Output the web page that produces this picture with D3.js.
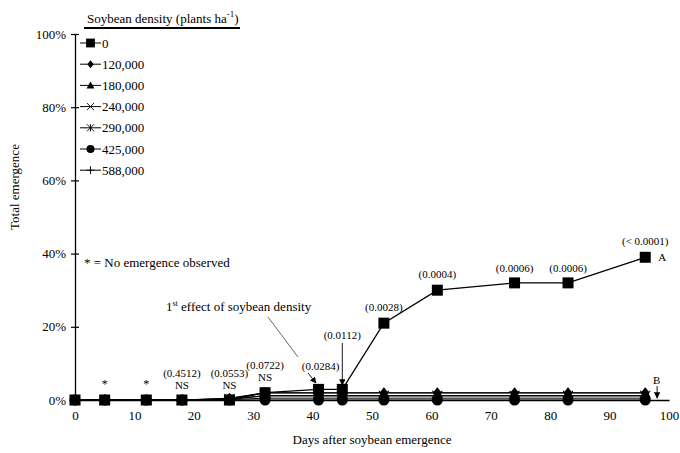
<!DOCTYPE html>
<html>
<head>
<meta charset="utf-8">
<script src="https://cdn.jsdelivr.net/npm/d3@7"></script>
<style>
  html, body { margin: 0; padding: 0; background: #fff; }
  svg text { font-family: "Liberation Serif", "Times New Roman", serif; fill: #000; }
</style>
</head>
<body>
<svg id="chart" width="680" height="453"></svg>
<script>
// Days after soybean emergence at which emergence was counted
const days = [0, 5, 12, 18, 26, 32, 41, 45, 52, 61, 74, 83, 96];

// Total emergence (%) for each soybean density
const density0      = [0, 0, 0, 0, 0,   2.0, 2.9, 2.9, 21, 30, 32, 32, 39];
const density120000 = [0, 0, 0, 0, 0.5, 2.0, 2.0, 2.0, 2.0, 2.0, 2.0, 2.0, 2.0];
const density180000 = [0, 0, 0, 0, 0.4, 1.9, 1.9, 1.9, 1.9, 1.9, 1.9, 1.9, 1.9];
const density240000 = [0, 0, 0, 0, 0.3, 1.2, 1.2, 1.2, 1.2, 1.2, 1.2, 1.2, 1.2];
const density290000 = [0, 0, 0, 0, 0.2, 1.1, 1.1, 1.1, 1.1, 1.1, 1.1, 1.1, 1.1];
const density425000 = [0, 0, 0, 0, 0,   0,   0,   0,   0,   0,   0,   0,   0];
const density588000 = [0, 0, 0, 0, 0.1, 0.5, 0.5, 0.5, 0.5, 0.5, 0.5, 0.5, 0.5];

const seriesNames = ["0", "120,000", "180,000", "240,000", "290,000", "425,000", "588,000"];
const seriesValues = [density0, density120000, density180000, density240000, density290000, density425000, density588000];
const seriesSymbols = ["square", "diamond", "triangle", "cross", "asterisk", "circle", "plus"];

const xTicks = [0, 10, 20, 30, 40, 50, 60, 70, 80, 90, 100];
const yTicks = [0, 20, 40, 60, 80, 100];

// P-values for the density effect on each sampling day
const pDays   = [18, 26, 32, 41, 45, 52, 61, 74, 83, 96];
const pLabels = ["(0.4512)", "(0.0553)", "(0.0722)", "(0.0284)", "(0.0112)", "(0.0028)", "(0.0004)", "(0.0006)", "(0.0006)", "(< 0.0001)"];
const nsDays  = [18, 26, 32];
const noEmergenceDays = [5, 12];

const svg = d3.select("#chart");
const x = d3.scaleLinear().domain([0, 100]).range([75, 669]);
const y = d3.scaleLinear().domain([0, 100]).range([400, 34]);

// Axes
const yAxis = d3.axisLeft(y).tickValues(yTicks).tickFormat(d => d + "%").tickSize(0).tickPadding(9);
const gy = svg.append("g").attr("transform", `translate(${x(0)},0)`).call(yAxis);
gy.select(".domain").attr("stroke", "#000").attr("stroke-width", 1.3);
gy.selectAll(".tick line").remove();
gy.selectAll(".tick").append("line").attr("x1", -4).attr("x2", 4).attr("stroke", "#000").attr("stroke-width", 1.2);
gy.selectAll("text").style("font-size", "13px").attr("fill", "#000");

const xAxis = d3.axisBottom(x).tickValues(xTicks).tickSize(0).tickPadding(11);
const gx = svg.append("g").attr("transform", `translate(0,${y(0)})`).call(xAxis);
gx.select(".domain").attr("stroke", "#000").attr("stroke-width", 1.3);
gx.selectAll("text").style("font-size", "13px").attr("fill", "#000");

svg.append("text").attr("transform", "translate(19,187) rotate(-90)")
  .attr("text-anchor", "middle").style("font-size", "13px").text("Total emergence");
svg.append("text").attr("x", 372).attr("y", 444)
  .attr("text-anchor", "middle").style("font-size", "13px").text("Days after soybean emergence");

// Symbol drawing
function drawSymbol(g, type, cx, cy, scale) {
  const s = scale || 1;
  if (type === "square") {
    g.append("rect").attr("x", cx - 5.5 * s).attr("y", cy - 5.5 * s).attr("width", 11 * s).attr("height", 11 * s).attr("fill", "#000");
  } else if (type === "diamond") {
    const r = 5 * s;
    g.append("path").attr("d", `M${cx},${cy - r}L${cx + r * 0.8},${cy}L${cx},${cy + r}L${cx - r * 0.8},${cy}Z`).attr("fill", "#000");
  } else if (type === "triangle") {
    const r = 5 * s;
    g.append("path").attr("d", `M${cx},${cy - r}L${cx + r},${cy + r * 0.8}L${cx - r},${cy + r * 0.8}Z`).attr("fill", "#000");
  } else if (type === "cross") {
    const r = 4.5 * s;
    g.append("path").attr("d", `M${cx - r},${cy - r}L${cx + r},${cy + r}M${cx - r},${cy + r}L${cx + r},${cy - r}`).attr("stroke", "#000").attr("stroke-width", 0.9).attr("fill", "none");
  } else if (type === "asterisk") {
    const r = 4.5 * s;
    g.append("path").attr("d", `M${cx - r},${cy - r}L${cx + r},${cy + r}M${cx - r},${cy + r}L${cx + r},${cy - r}M${cx},${cy - r}L${cx},${cy + r}`).attr("stroke", "#000").attr("stroke-width", 0.9).attr("fill", "none");
  } else if (type === "circle") {
    g.append("circle").attr("cx", cx).attr("cy", cy).attr("r", 5 * s).attr("fill", "#000");
  } else if (type === "plus") {
    const r = 5 * s;
    g.append("path").attr("d", `M${cx - r},${cy}L${cx + r},${cy}M${cx},${cy - r}L${cx},${cy + r}`).attr("stroke", "#000").attr("stroke-width", 0.9).attr("fill", "none");
  }
}

// Series: draw highest density first so the 0 density series sits on top
const line = d3.line().x(d => x(d[0])).y(d => y(d[1]));
const plot = svg.append("g");
for (let i = seriesNames.length - 1; i >= 0; i--) {
  const pts = days.map((d, j) => [d, seriesValues[i][j]]);
  const g = plot.append("g");
  g.append("path").datum(pts).attr("d", line).attr("fill", "none")
    .attr("stroke", "#000").attr("stroke-width", i === 0 ? 1.3 : 1);
  pts.forEach(p => drawSymbol(g, seriesSymbols[i], x(p[0]), y(p[1]), i === 0 ? 1 : 1.1));
}

// Legend
const lg = svg.append("g");
lg.append("text").attr("x", 87).attr("y", 23).style("font-size", "13px")
  .html('Soybean density (plants ha<tspan dy="-6" style="font-size:9px">-1</tspan><tspan dy="6">)</tspan>');
lg.append("line").attr("x1", 84).attr("x2", 240).attr("y1", 28).attr("y2", 28).attr("stroke", "#000").attr("stroke-width", 2);
seriesNames.forEach((name, i) => {
  const cy = 43 + i * 21.2;
  lg.append("line").attr("x1", 80).attr("x2", 101).attr("y1", cy).attr("y2", cy).attr("stroke", "#000").attr("stroke-width", 1);
  drawSymbol(lg, seriesSymbols[i], 90.5, cy, i === 0 ? 0.8 : 0.8);
  lg.append("text").attr("x", 102).attr("y", cy + 4.5).style("font-size", "13px").text(name);
});

svg.append("text").attr("x", 84).attr("y", 267).style("font-size", "13px").text("* = No emergence observed");

// Annotations
const ann = svg.append("g").style("font-size", "11px");
noEmergenceDays.forEach(d => {
  ann.append("text").attr("x", x(d)).attr("y", 388).attr("text-anchor", "middle").style("font-size", "12px").text("*");
});
const pYOffsets = { 18: 377, 26: 377, 32: 369, 41: 370, 45: 339, 52: 311, 61: 278, 74: 272, 83: 272, 96: 245 };
const pXShift = { 41: 2 };
pDays.forEach((d, i) => {
  ann.append("text").attr("x", x(d) + (pXShift[d] || 0)).attr("y", pYOffsets[d]).attr("text-anchor", "middle").text(pLabels[i]);
});
nsDays.forEach(d => {
  ann.append("text").attr("x", x(d)).attr("y", pYOffsets[d] + 12).attr("text-anchor", "middle").text("NS");
});
ann.append("text").attr("x", x(96) + 13).attr("y", y(39) + 4).style("font-size", "11px").text("A");
ann.append("text").attr("x", x(98) - 4).attr("y", 384).style("font-size", "11px").text("B");

// Arrows
const defs = svg.append("defs");
defs.append("marker").attr("id", "arrow").attr("viewBox", "0 0 10 10").attr("refX", 9).attr("refY", 5)
  .attr("markerWidth", 7).attr("markerHeight", 7).attr("orient", "auto-start-reverse")
  .append("path").attr("d", "M0,0L10,5L0,10Z").attr("fill", "#000");
function arrow(x1, y1, x2, y2) {
  svg.append("line").attr("x1", x1).attr("y1", y1).attr("x2", x2).attr("y2", y2)
    .attr("stroke", "#000").attr("stroke-width", 0.9).attr("marker-end", "url(#arrow)");
}
arrow(308, 373, 316, 383);
arrow(x(45), 343, x(45), 385);
arrow(x(98), 386, x(98), 398);

// "1st effect" callout
const fx = svg.append("text").attr("x", 166).attr("y", 311).style("font-size", "13px");
fx.append("tspan").text("1");
fx.append("tspan").attr("dy", -5).style("font-size", "8px").text("st");
fx.append("tspan").attr("dy", 5).text(" effect of soybean density");
svg.append("line").attr("x1", 268).attr("y1", 317).attr("x2", 298).attr("y2", 357)
  .attr("stroke", "#000").attr("stroke-width", 0.6);
</script>
</body>
</html>
